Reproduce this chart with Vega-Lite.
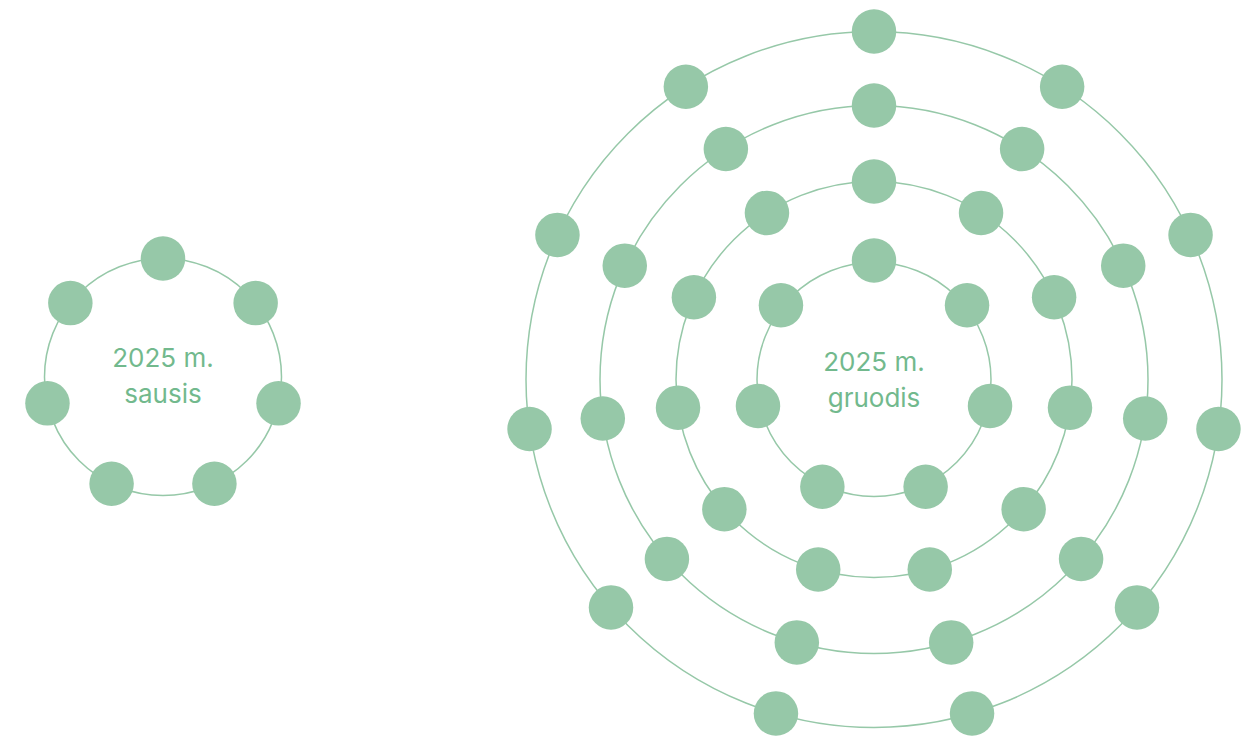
{
  "$schema": "https://vega.github.io/schema/vega-lite/v6.json",
  "width": 1243,
  "height": 738,
  "autosize": {"type": "fit", "contains": "padding"},
  "padding": 0,
  "background": "#ffffff",
  "config": {"view": {"stroke": null}},
  "datasets": {
    "rings": [
      {"diagram": "2025 m. sausis", "ring": 1, "x": -711, "y": 2.5, "r": 118.5},
      {"diagram": "2025 m. gruodis", "ring": 1, "x": 0, "y": 0, "r": 117},
      {"diagram": "2025 m. gruodis", "ring": 2, "x": 0, "y": 0, "r": 198},
      {"diagram": "2025 m. gruodis", "ring": 3, "x": 0, "y": 0, "r": 274},
      {"diagram": "2025 m. gruodis", "ring": 4, "x": 0, "y": 0, "r": 348}
    ],
    "dots": [
      {"diagram": "2025 m. sausis", "ring": 1, "dot": 0, "x": -711, "y": 121},
      {"diagram": "2025 m. sausis", "ring": 1, "dot": 1, "x": -618.35, "y": 76.38},
      {"diagram": "2025 m. sausis", "ring": 1, "dot": 2, "x": -595.47, "y": -23.87},
      {"diagram": "2025 m. sausis", "ring": 1, "dot": 3, "x": -659.58, "y": -104.27},
      {"diagram": "2025 m. sausis", "ring": 1, "dot": 4, "x": -762.42, "y": -104.27},
      {"diagram": "2025 m. sausis", "ring": 1, "dot": 5, "x": -826.53, "y": -23.87},
      {"diagram": "2025 m. sausis", "ring": 1, "dot": 6, "x": -803.65, "y": 76.38},

      {"diagram": "2025 m. gruodis", "ring": 1, "dot": 0, "x": 0, "y": 119},
      {"diagram": "2025 m. gruodis", "ring": 1, "dot": 1, "x": 93.04, "y": 74.19},
      {"diagram": "2025 m. gruodis", "ring": 1, "dot": 2, "x": 116.02, "y": -26.48},
      {"diagram": "2025 m. gruodis", "ring": 1, "dot": 3, "x": 51.63, "y": -107.22},
      {"diagram": "2025 m. gruodis", "ring": 1, "dot": 4, "x": -51.63, "y": -107.22},
      {"diagram": "2025 m. gruodis", "ring": 1, "dot": 5, "x": -116.02, "y": -26.48},
      {"diagram": "2025 m. gruodis", "ring": 1, "dot": 6, "x": -93.04, "y": 74.19},

      {"diagram": "2025 m. gruodis", "ring": 2, "dot": 0, "x": 0, "y": 198},
      {"diagram": "2025 m. gruodis", "ring": 2, "dot": 1, "x": 107.05, "y": 166.57},
      {"diagram": "2025 m. gruodis", "ring": 2, "dot": 2, "x": 180.11, "y": 82.25},
      {"diagram": "2025 m. gruodis", "ring": 2, "dot": 3, "x": 195.98, "y": -28.18},
      {"diagram": "2025 m. gruodis", "ring": 2, "dot": 4, "x": 149.64, "y": -129.66},
      {"diagram": "2025 m. gruodis", "ring": 2, "dot": 5, "x": 55.78, "y": -189.98},
      {"diagram": "2025 m. gruodis", "ring": 2, "dot": 6, "x": -55.78, "y": -189.98},
      {"diagram": "2025 m. gruodis", "ring": 2, "dot": 7, "x": -149.64, "y": -129.66},
      {"diagram": "2025 m. gruodis", "ring": 2, "dot": 8, "x": -195.98, "y": -28.18},
      {"diagram": "2025 m. gruodis", "ring": 2, "dot": 9, "x": -180.11, "y": 82.25},
      {"diagram": "2025 m. gruodis", "ring": 2, "dot": 10, "x": -107.05, "y": 166.57},

      {"diagram": "2025 m. gruodis", "ring": 3, "dot": 0, "x": 0, "y": 274},
      {"diagram": "2025 m. gruodis", "ring": 3, "dot": 1, "x": 148.14, "y": 230.5},
      {"diagram": "2025 m. gruodis", "ring": 3, "dot": 2, "x": 249.24, "y": 113.83},
      {"diagram": "2025 m. gruodis", "ring": 3, "dot": 3, "x": 271.21, "y": -38.99},
      {"diagram": "2025 m. gruodis", "ring": 3, "dot": 4, "x": 207.08, "y": -179.43},
      {"diagram": "2025 m. gruodis", "ring": 3, "dot": 5, "x": 77.19, "y": -262.9},
      {"diagram": "2025 m. gruodis", "ring": 3, "dot": 6, "x": -77.19, "y": -262.9},
      {"diagram": "2025 m. gruodis", "ring": 3, "dot": 7, "x": -207.08, "y": -179.43},
      {"diagram": "2025 m. gruodis", "ring": 3, "dot": 8, "x": -271.21, "y": -38.99},
      {"diagram": "2025 m. gruodis", "ring": 3, "dot": 9, "x": -249.24, "y": 113.83},
      {"diagram": "2025 m. gruodis", "ring": 3, "dot": 10, "x": -148.14, "y": 230.5},

      {"diagram": "2025 m. gruodis", "ring": 4, "dot": 0, "x": 0, "y": 348},
      {"diagram": "2025 m. gruodis", "ring": 4, "dot": 1, "x": 188.14, "y": 292.76},
      {"diagram": "2025 m. gruodis", "ring": 4, "dot": 2, "x": 316.55, "y": 144.57},
      {"diagram": "2025 m. gruodis", "ring": 4, "dot": 3, "x": 344.46, "y": -49.52},
      {"diagram": "2025 m. gruodis", "ring": 4, "dot": 4, "x": 263.0, "y": -227.89},
      {"diagram": "2025 m. gruodis", "ring": 4, "dot": 5, "x": 98.04, "y": -333.9},
      {"diagram": "2025 m. gruodis", "ring": 4, "dot": 6, "x": -98.04, "y": -333.9},
      {"diagram": "2025 m. gruodis", "ring": 4, "dot": 7, "x": -263.0, "y": -227.89},
      {"diagram": "2025 m. gruodis", "ring": 4, "dot": 8, "x": -344.46, "y": -49.52},
      {"diagram": "2025 m. gruodis", "ring": 4, "dot": 9, "x": -316.55, "y": 144.57},
      {"diagram": "2025 m. gruodis", "ring": 4, "dot": 10, "x": -188.14, "y": 292.76}
    ],
    "labels": [
      {"diagram": "2025 m. sausis", "label": "2025 m.\nsausis", "x": -711, "y": 21},
      {"diagram": "2025 m. gruodis", "label": "2025 m.\ngruodis", "x": 0, "y": 17}
    ]
  },
  "encoding": {
    "x": {"field": "x", "type": "quantitative", "axis": null, "scale": {"domain": [-874, 369], "nice": false, "zero": false}},
    "y": {"field": "y", "type": "quantitative", "axis": null, "scale": {"domain": [-358.5, 379.5], "nice": false, "zero": false}}
  },
  "layer": [
    {
      "data": {"name": "rings"},
      "mark": {"type": "point", "shape": "circle", "filled": false, "stroke": "#96c8a8", "strokeWidth": 1.5, "opacity": 1},
      "encoding": {
        "size": {"field": "r", "type": "quantitative", "legend": null, "scale": {"type": "pow", "exponent": 2, "domain": [0, 400], "range": [0, 640000], "zero": true}}
      }
    },
    {
      "data": {"name": "dots"},
      "mark": {"type": "point", "shape": "circle", "filled": true, "color": "#96c8a8", "opacity": 1, "size": 1980, "strokeWidth": 0},
      "encoding": {}
    },
    {
      "data": {"name": "labels"},
      "mark": {"type": "text", "align": "center", "baseline": "middle", "lineBreak": "\n", "font": "Inter", "fontSize": 26, "fontWeight": 400, "lineHeight": 36, "color": "#72b98d"},
      "encoding": {"text": {"field": "label"}}
    }
  ]
}
